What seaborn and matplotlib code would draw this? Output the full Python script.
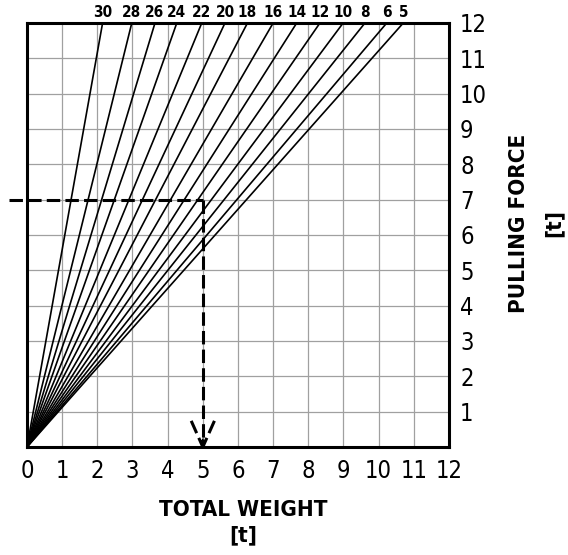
# pulling force chart - fan of lines from origin
import numpy as np
import pandas as pd
import matplotlib
matplotlib.use('Agg')
import matplotlib.pyplot as plt
import seaborn as sns

sns.set_style("white")
plt.rcParams['font.family'] = ['DejaVu Sans']
plt.rcParams['font.stretch'] = 'condensed'
plt.rcParams['text.color'] = 'black'
plt.rcParams['xtick.color'] = 'black'
plt.rcParams['ytick.color'] = 'black'

# ==================== Data ====================
line_labels = [30, 28, 26, 24, 22, 20, 18, 16, 14, 12, 10, 8, 6, 5]
# total weight where each line reaches a pulling force of 12 t
x_at_top = [2.15, 2.98, 3.64, 4.26, 4.97, 5.63, 6.27, 7.0, 7.67, 8.33, 8.99, 9.61, 10.23, 10.7]
y_top = 12

x_ticks = list(range(0, 13))
y_ticks = list(range(1, 13))

# example reading: 7 t pulling force -> 5 t total weight
read_force = 7
read_weight = 5
read_start = -0.5

rows = []
for lab, xt in zip(line_labels, x_at_top):
    rows.append({'label': str(lab), 'weight': 0.0, 'force': 0.0})
    rows.append({'label': str(lab), 'weight': xt, 'force': y_top})
df = pd.DataFrame(rows)

# ==================== Figure ====================
fig = plt.figure(figsize=(5.68, 5.55), dpi=100)
ax = fig.add_axes([0.0475, 0.1946, 0.743, 0.764])

sns.lineplot(data=df, x='weight', y='force', hue='label', units='label',
             estimator=None, sort=False, legend=False,
             palette={str(l): 'black' for l in line_labels},
             linewidth=1.2, ax=ax, zorder=3)

for lab, xt in zip(line_labels, x_at_top):
    ax.text(xt, y_top + 0.08, str(lab), ha='center', va='bottom',
            fontsize=11, fontweight='bold', clip_on=False)

# dashed reading line
dash = dict(color='black', linewidth=2.2, linestyle=(0, (4.4, 1.7)),
            clip_on=False, zorder=5)
ax.plot([read_start, read_weight], [read_force, read_force], **dash)
ax.plot([read_weight, read_weight], [read_force, 0.12], **dash)
ax.plot([read_weight - 0.33, read_weight], [0.74, 0.0], **dash)
ax.plot([read_weight + 0.33, read_weight], [0.74, 0.0], **dash)
ax.annotate('', xy=(read_weight, 0.0), xytext=(read_weight, 0.22),
            arrowprops=dict(arrowstyle='-|>', color='black', lw=1.2,
                            mutation_scale=8, shrinkA=0, shrinkB=0),
            zorder=6)

ax.set_xlim(0, 12)
ax.set_ylim(0, 12)
ax.set_xticks(x_ticks)
ax.set_yticks(y_ticks)
ax.yaxis.tick_right()
ax.tick_params(axis='both', length=0, labelsize=17)
ax.tick_params(axis='x', pad=9)
ax.tick_params(axis='y', pad=8)
ax.set_xlabel('')
ax.set_ylabel('')
ax.grid(True, color='#a0a0a0', linewidth=0.9)
ax.set_axisbelow(True)
for s in ax.spines.values():
    s.set_visible(True)
    s.set_color('black')
    s.set_linewidth(2.2)

fig.text(0.428, 0.081, 'TOTAL WEIGHT', ha='center', va='center',
         fontsize=16, fontweight='bold')
fig.text(0.428, 0.036, '[t]', ha='center', va='center',
         fontsize=16, fontweight='bold')
fig.text(0.914, 0.598, 'PULLING FORCE', ha='center', va='center',
         rotation=90, fontsize=16, fontweight='bold')
fig.text(0.975, 0.598, '[t]', ha='center', va='center',
         rotation=90, fontsize=16, fontweight='bold')

fig.savefig('out.png', dpi=100)
